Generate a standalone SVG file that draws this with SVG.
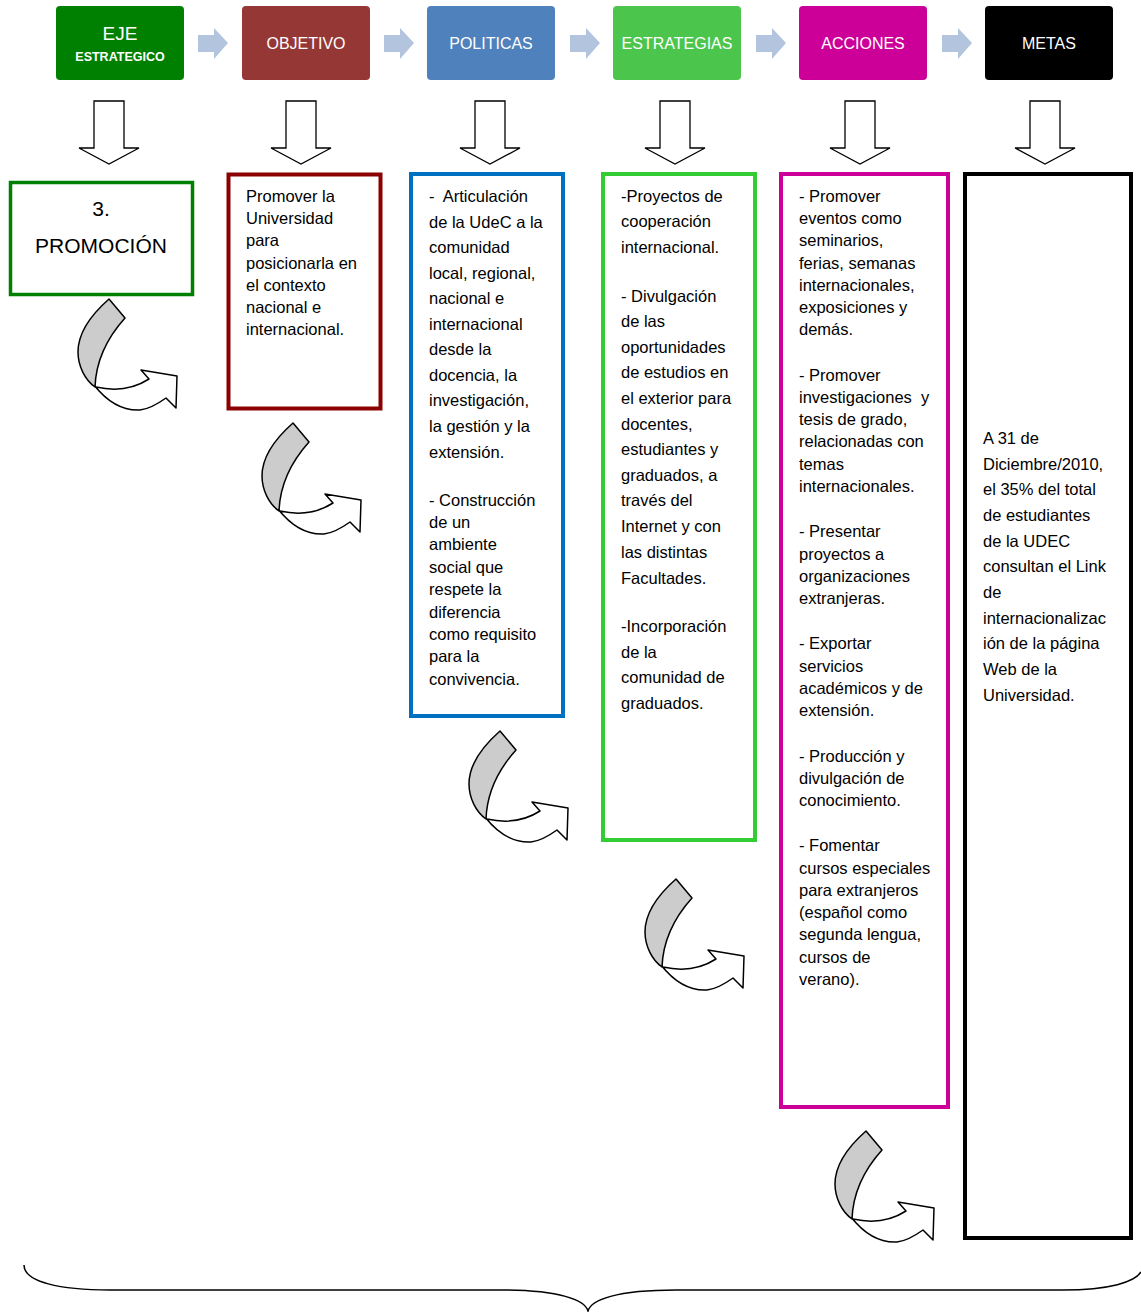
<svg xmlns="http://www.w3.org/2000/svg" width="1141" height="1312" viewBox="0 0 1141 1312">
<style>
.hdr{font-family:"Liberation Sans",Arial,sans-serif;fill:#fff;text-anchor:middle}
.t{font-family:"Liberation Sans",Arial,sans-serif;font-size:16.5px;fill:#000}
.big{font-family:"Liberation Sans",Arial,sans-serif;font-size:21px;fill:#000;text-anchor:middle}
.box{fill:#fff}
.chev{fill:#B3C4DE}
.down{fill:#fff;stroke:#000;stroke-width:1.3;stroke-linejoin:miter}
.gray{fill:#CCCCCC;stroke:#000;stroke-width:1.5;stroke-linejoin:round}
.white{fill:#fff;stroke:#000;stroke-width:1.5;stroke-linejoin:round}
</style>
<defs>
<path id="chevron" class="chev" d="M0,-8 L16,-8 L16,-15 L30,0 L16,16 L16,9 L0,9 Z"/>
<path id="downArrow" class="down" d="M-15,0 L15,0 L15,47 L30,47 L0,63 L-30,47 L-15,47 Z"/>
<g id="curveArrow">
<path class="white" d="M94,385 C105,399 120,411 140,410 C150,409 159,403 166,398 L176,408 L177,376 L141,370 L149,379 C135,388 118,392 96,387 Z"/>
<path class="gray" d="M109,299 L125,318 C107,338 96,360 95,387 C85,380 78,366 78,352 C78,332 92,314 109,299 Z"/>
</g>
</defs>

<g id="header-eje">
<rect x="56" y="6" width="128" height="74" rx="4" fill="#008000"/>
<text class="hdr" x="120" y="40" font-size="19">EJE</text>
<text class="hdr" x="120" y="61" font-size="12.5" font-weight="bold">ESTRATEGICO</text>
</g>
<g id="header-objetivo">
<rect x="242" y="6" width="128" height="74" rx="4" fill="#953735"/>
<text class="hdr" x="306" y="49" font-size="16">OBJETIVO</text>
</g>
<g id="header-politicas">
<rect x="427" y="6" width="128" height="74" rx="4" fill="#4F81BD"/>
<text class="hdr" x="491" y="49" font-size="16">POLITICAS</text>
</g>
<g id="header-estrategias">
<rect x="613" y="6" width="128" height="74" rx="4" fill="#4CC54C"/>
<text class="hdr" x="677" y="49" font-size="16">ESTRATEGIAS</text>
</g>
<g id="header-acciones">
<rect x="799" y="6" width="128" height="74" rx="4" fill="#CC0099"/>
<text class="hdr" x="863" y="49" font-size="16">ACCIONES</text>
</g>
<g id="header-metas">
<rect x="985" y="6" width="128" height="74" rx="4" fill="#000"/>
<text class="hdr" x="1049" y="49" font-size="16">METAS</text>
</g>

<g id="connectors">
<use href="#chevron" x="198" y="43"/>
<use href="#chevron" x="384" y="43"/>
<use href="#chevron" x="570" y="43"/>
<use href="#chevron" x="756" y="43"/>
<use href="#chevron" x="942" y="43"/>
<use href="#downArrow" x="109" y="101"/>
<use href="#downArrow" x="301" y="101"/>
<use href="#downArrow" x="490" y="101"/>
<use href="#downArrow" x="675" y="101"/>
<use href="#downArrow" x="860" y="101"/>
<use href="#downArrow" x="1045" y="101"/>
<use href="#curveArrow" x="0" y="0"/>
<use href="#curveArrow" x="184" y="124"/>
<use href="#curveArrow" x="391" y="432"/>
<use href="#curveArrow" x="567" y="580"/>
<use href="#curveArrow" x="757" y="832"/>
<path d="M24,1265 C24,1282 60,1290 110,1290 L500,1290 C560,1290 585,1300 588,1311 C591,1300 616,1290 676,1290 L1063,1290 C1110,1290 1135,1282 1141,1272" fill="none" stroke="#000" stroke-width="1.5"/>
</g>

<g id="node-promocion">
<rect class="box" x="10.5" y="182.5" width="182" height="112" stroke="#008000" stroke-width="3.5"/>
<text class="big" x="101" y="216">3.</text>
<text class="big" x="101" y="253">PROMOCIÓN</text>
</g>

<g id="node-objetivo">
<rect class="box" x="228.5" y="174.5" width="152" height="234" stroke="#8B0000" stroke-width="4"/>
<text class="t" x="246" y="202">Promover la</text>
<text class="t" x="246" y="224">Universidad</text>
<text class="t" x="246" y="246">para</text>
<text class="t" x="246" y="269">posicionarla en</text>
<text class="t" x="246" y="291">el contexto</text>
<text class="t" x="246" y="313">nacional e</text>
<text class="t" x="246" y="335">internacional.</text>
</g>

<g id="node-politicas">
<rect class="box" x="411" y="174" width="152" height="542" stroke="#0070C0" stroke-width="4"/>
<text class="t" x="429" y="202" xml:space="preserve">-  Articulación</text>
<text class="t" x="429" y="227.5">de la UdeC a la</text>
<text class="t" x="429" y="253">comunidad</text>
<text class="t" x="429" y="278.5">local, regional,</text>
<text class="t" x="429" y="304">nacional e</text>
<text class="t" x="429" y="329.5">internacional</text>
<text class="t" x="429" y="355">desde la</text>
<text class="t" x="429" y="380.5">docencia, la</text>
<text class="t" x="429" y="406">investigación,</text>
<text class="t" x="429" y="431.5">la gestión y la</text>
<text class="t" x="429" y="457.5">extensión.</text>
<text class="t" x="429" y="505.5">- Construcción</text>
<text class="t" x="429" y="528">de un</text>
<text class="t" x="429" y="550">ambiente</text>
<text class="t" x="429" y="573">social que</text>
<text class="t" x="429" y="595">respete la</text>
<text class="t" x="429" y="617.5">diferencia</text>
<text class="t" x="429" y="640">como requisito</text>
<text class="t" x="429" y="662">para la</text>
<text class="t" x="429" y="684.5">convivencia.</text>
</g>

<g id="node-estrategias">
<rect class="box" x="603" y="174" width="152" height="666" stroke="#33CC33" stroke-width="4"/>
<text class="t" x="621" y="202">-Proyectos de</text>
<text class="t" x="621" y="227">cooperación</text>
<text class="t" x="621" y="253">internacional.</text>
<text class="t" x="621" y="302">- Divulgación</text>
<text class="t" x="621" y="327">de las</text>
<text class="t" x="621" y="353">oportunidades</text>
<text class="t" x="621" y="378">de estudios en</text>
<text class="t" x="621" y="404">el exterior para</text>
<text class="t" x="621" y="430">docentes,</text>
<text class="t" x="621" y="455">estudiantes y</text>
<text class="t" x="621" y="481">graduados, a</text>
<text class="t" x="621" y="506">través del</text>
<text class="t" x="621" y="532">Internet y con</text>
<text class="t" x="621" y="558">las distintas</text>
<text class="t" x="621" y="584">Facultades.</text>
<text class="t" x="621" y="632">-Incorporación</text>
<text class="t" x="621" y="658">de la</text>
<text class="t" x="621" y="683">comunidad de</text>
<text class="t" x="621" y="709">graduados.</text>
</g>

<g id="node-acciones">
<rect class="box" x="781" y="174" width="167" height="933" stroke="#CC0099" stroke-width="4"/>
<text class="t" x="799" y="202">- Promover</text>
<text class="t" x="799" y="224">eventos como</text>
<text class="t" x="799" y="246">seminarios,</text>
<text class="t" x="799" y="269">ferias, semanas</text>
<text class="t" x="799" y="291">internacionales,</text>
<text class="t" x="799" y="313">exposiciones y</text>
<text class="t" x="799" y="335">demás.</text>
<text class="t" x="799" y="381">- Promover</text>
<text class="t" x="799" y="403" xml:space="preserve">investigaciones  y</text>
<text class="t" x="799" y="425">tesis de grado,</text>
<text class="t" x="799" y="447">relacionadas con</text>
<text class="t" x="799" y="470">temas</text>
<text class="t" x="799" y="492">internacionales.</text>
<text class="t" x="799" y="537">- Presentar</text>
<text class="t" x="799" y="560">proyectos a</text>
<text class="t" x="799" y="582">organizaciones</text>
<text class="t" x="799" y="604">extranjeras.</text>
<text class="t" x="799" y="649">- Exportar</text>
<text class="t" x="799" y="672">servicios</text>
<text class="t" x="799" y="694">académicos y de</text>
<text class="t" x="799" y="716">extensión.</text>
<text class="t" x="799" y="762">- Producción y</text>
<text class="t" x="799" y="784">divulgación de</text>
<text class="t" x="799" y="806">conocimiento.</text>
<text class="t" x="799" y="851">- Fomentar</text>
<text class="t" x="799" y="874">cursos especiales</text>
<text class="t" x="799" y="896">para extranjeros</text>
<text class="t" x="799" y="918">(español como</text>
<text class="t" x="799" y="940">segunda lengua,</text>
<text class="t" x="799" y="963">cursos de</text>
<text class="t" x="799" y="985">verano).</text>
</g>

<g id="node-metas">
<rect class="box" x="965" y="174" width="166" height="1064" stroke="#000" stroke-width="4"/>
<text class="t" x="983" y="444">A 31 de</text>
<text class="t" x="983" y="470">Diciembre/2010,</text>
<text class="t" x="983" y="495">el 35% del total</text>
<text class="t" x="983" y="521">de estudiantes</text>
<text class="t" x="983" y="547">de la UDEC</text>
<text class="t" x="983" y="572">consultan el Link</text>
<text class="t" x="983" y="598">de</text>
<text class="t" x="983" y="624">internacionalizac</text>
<text class="t" x="983" y="649">ión de la página</text>
<text class="t" x="983" y="675">Web de la</text>
<text class="t" x="983" y="701">Universidad.</text>
</g>
</svg>
